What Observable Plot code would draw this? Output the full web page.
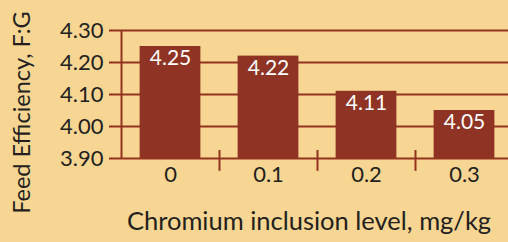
<!DOCTYPE html>
<html>
<head>
<meta charset="utf-8">
<script src="https://cdn.jsdelivr.net/npm/d3@7"></script>
<script src="https://cdn.jsdelivr.net/npm/@observablehq/plot@0.6"></script>
<style>
html,body{margin:0;padding:0;background:#F7D592;}
svg{display:block;}
</style>
</head>
<body>
<div id="chart"></div>
<script>
const categories = ["0", "0.1", "0.2", "0.3"];
const values = [4.25, 4.22, 4.11, 4.05];
const yTicks = [3.9, 4.0, 4.1, 4.2, 4.3];
const yLabel = "Feed Efficiency, F:G";
const xLabel = "Chromium inclusion level, mg/kg";

const data = categories.map((c, i) => ({i, c, v: values[i]}));
const dark = "#93331F";
const ink = "#231F20";
const font = "Lato, 'Open Sans', sans-serif";
const half = 0.31;

const chart = Plot.plot({
  width: 508,
  height: 242,
  marginLeft: 109,
  marginRight: 0,
  marginTop: 30,
  marginBottom: 84,
  style: {background: "#F7D592", fontFamily: font, fontSize: "21px", color: ink},
  x: {domain: [-0.5, 3.5], range: [121, 513], axis: null},
  y: {domain: [3.9, 4.3], axis: null},
  marks: [
    Plot.ruleY(yTicks, {stroke: dark, strokeWidth: 2}),
    Plot.ruleX([-0.5], {y1: 3.9, y2: 4.3, stroke: dark, strokeWidth: 2}),
    Plot.ruleX([0.5, 1.5, 2.5], {y1: 3.86, y2: 3.925, stroke: dark, strokeWidth: 2}),
    Plot.rectY(data, {x1: d => d.i - half, x2: d => d.i + half, y1: 3.9, y2: "v", fill: "#8F3424"}),
    Plot.text(data, {x: "i", y: "v", text: d => d.v.toFixed(2), fill: "white", lineAnchor: "top", dy: 4, fontSize: 21}),
    Plot.axisY(yTicks, {tickSize: 0, tickPadding: 6, tickFormat: d => d.toFixed(2), label: null, fill: ink, fontSize: 22}),
    Plot.axisX([0, 1, 2, 3], {tickSize: 0, tickPadding: 8, tickFormat: i => categories[i], label: null, fill: ink, fontSize: 22}),
    Plot.text([yLabel], {frameAnchor: "left", textAnchor: "middle", rotate: -90, dx: -87, dy: 18, fill: ink, fontSize: 23.5}),
    Plot.text([xLabel], {frameAnchor: "bottom", textAnchor: "middle", dy: 71, fill: ink, fontSize: 25.5})
  ]
});
document.getElementById("chart").appendChild(chart);
</script>
</body>
</html>
